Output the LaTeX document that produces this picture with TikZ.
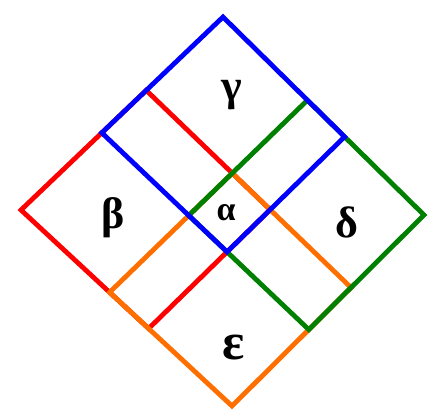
\documentclass[tikz,border=0pt]{standalone}
\usepackage{fontspec}
\setmainfont{Liberation Serif}
\usepackage{tikz}
\usetikzlibrary{calc,positioning}
\definecolor{azul}{HTML}{0000FF}
\definecolor{rojo}{HTML}{FF0000}
\definecolor{naranja}{HTML}{FF6F00}
\definecolor{verde}{HTML}{008000}

\begin{document}
\begin{tikzpicture}[x=1pt,y=-1pt,line join=miter,
    lado/.style={line width=4.8pt},
    letra/.style={font=\fontsize{44}{44}\selectfont\bfseries,inner sep=0pt}]
  \useasboundingbox (0,0) rectangle (429,412);
  % outer corners of the whole figure
  \coordinate (T) at (223,17);
  \coordinate (L) at (21,210);
  \coordinate (B) at (232,406);
  \coordinate (R) at (424,215);
  % inner grid lines
  \coordinate (A1) at ($(T)!0.38!(L)$);
  \coordinate (C1) at ($(R)!0.38!(B)$);
  \coordinate (A2) at ($(T)!0.60!(L)$);
  \coordinate (C2) at ($(R)!0.60!(B)$);
  \coordinate (E1) at ($(T)!0.42!(R)$);
  \coordinate (F1) at ($(L)!0.42!(B)$);
  \coordinate (E2) at ($(T)!0.605!(R)$);
  \coordinate (F2) at ($(L)!0.605!(B)$);
  \coordinate (X11) at (intersection of A1--C1 and E1--F1);
  \coordinate (X12) at (intersection of A1--C1 and E2--F2);
  \coordinate (X21) at (intersection of A2--C2 and E1--F1);
  \coordinate (X22) at (intersection of A2--C2 and E2--F2);
  % squares
  \draw[lado,rojo]    (A1) -- (L) -- (F2) -- (X12) -- cycle;
  \draw[lado,naranja] (X11) -- (F1) -- (B) -- (C1) -- cycle;
  \draw[lado,verde]   (E1) -- (X21) -- (C2) -- (R) -- cycle;
  \draw[lado,azul]    (T) -- (A2) -- (X22) -- (E2) -- cycle;
  % labels
  \node[letra] (gamma)   at (232,95)  {γ};
  \node[letra] (beta)    at (113,218) {β};
  \node[letra] (delta)   at (347,222) {δ};
  \node[letra,font=\fontsize{52}{52}\selectfont\bfseries] (epsilon) at (234,348) {ε};
  \node[letra,font=\fontsize{34}{34}\selectfont\bfseries] (alpha) at (226,213) {α};
\end{tikzpicture}
\end{document}
